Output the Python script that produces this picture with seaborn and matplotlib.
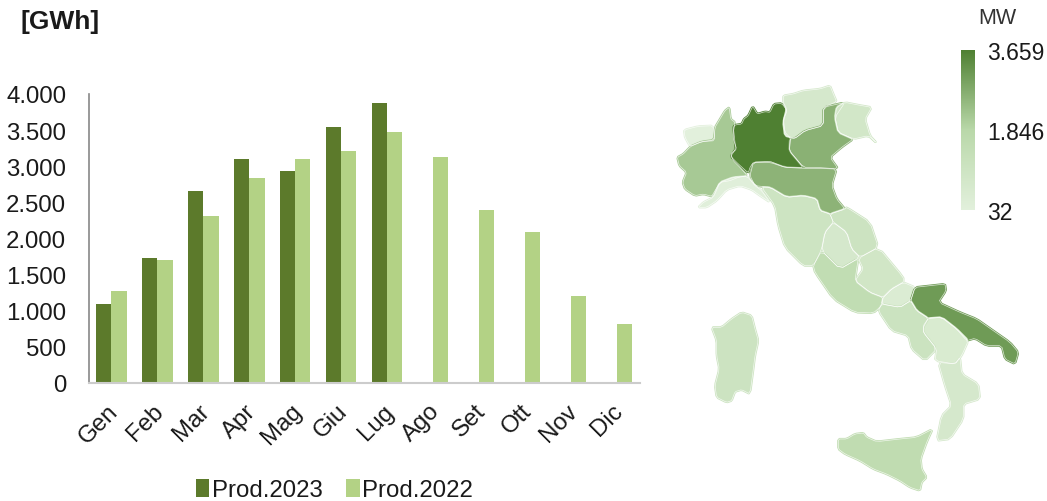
#!/usr/bin/env python3
"""Monthly production bars and installed MW map of Italy."""

import matplotlib
matplotlib.use("Agg")
import matplotlib.pyplot as plt
import numpy as np
import pandas as pd
import seaborn as sns
from matplotlib.cm import ScalarMappable
from matplotlib.colors import LinearSegmentedColormap, Normalize
from matplotlib.patches import Polygon
from matplotlib.ticker import FuncFormatter
from matplotlib.transforms import ScaledTranslation

MONTHS = ["Gen", "Feb", "Mar", "Apr", "Mag", "Giu", "Lug", "Ago", "Set", "Ott", "Nov", "Dic"]
PROD_2023 = [1100, 1730, 2660, 3100, 2930, 3540, 3880, np.nan, np.nan, np.nan, np.nan, np.nan]
PROD_2022 = [1270, 1700, 2310, 2840, 3100, 3210, 3470, 3130, 2400, 2090, 1210, 820]
Y_TICKS = [0, 500, 1000, 1500, 2000, 2500, 3000, 3500, 4000]

# installed MW per region, estimated from the shading
REGION_MW = {
    "Valle d'Aosta": 32, "Piemonte": 2150, "Lombardia": 3659, "Trentino": 620,
    "Veneto": 2650, "Friuli": 750, "Liguria": 130, "Emilia": 2600,
    "Toscana": 950, "Marche": 1000, "Umbria": 600, "Lazio": 1500,
    "Abruzzo": 800, "Molise": 350, "Campania": 1050, "Puglia": 3100,
    "Basilicata": 450, "Calabria": 600, "Sicilia": 1550, "Sardegna": 1000,
}


def north(points):
    return [(670 + x / 3, 70 + y / 3) for x, y in points]


def south(points):
    return [(700 + x / 3, 270 + y / 3) for x, y in points]


REGION_OUTLINES = {
    "Valle d'Aosta": north([(42, 183), (85, 172), (130, 170), (135, 215), (95, 218), (60, 232), (45, 205)]),
    "Piemonte": north([(22, 265), (40, 255), (62, 232), (95, 218), (132, 213), (135, 175), (150, 150), (165, 125),
                       (178, 115), (182, 150), (195, 160), (190, 190), (190, 210), (200, 240), (182, 255), (190, 275),
                       (210, 295), (232, 320), (205, 325), (180, 335), (150, 340), (135, 365), (125, 382), (100, 375),
                       (75, 380), (45, 360), (38, 340), (50, 310), (28, 290)]),
    "Lombardia": north([(190, 175), (195, 168), (215, 165), (222, 150), (235, 140), (248, 112), (262, 135), (285, 128),
                        (300, 130), (312, 105), (335, 103), (352, 125), (340, 150), (345, 190), (362, 208), (358, 245),
                        (375, 265), (400, 295), (370, 295), (345, 295), (320, 285), (300, 277), (250, 280), (240, 295),
                        (235, 312), (205, 285), (182, 262), (197, 240)]),
    "Trentino": north([(340, 80), (370, 75), (400, 65), (450, 60), (480, 50), (490, 75), (500, 98), (460, 115),
                       (460, 170), (405, 185), (375, 208), (345, 200), (340, 160), (350, 120), (340, 100)]),
    "Veneto": north([(460, 115), (525, 100), (495, 145), (505, 190), (550, 210), (515, 235), (480, 265), (505, 300),
                     (440, 295), (400, 295), (358, 245), (360, 210), (375, 208), (405, 185), (460, 170)]),
    "Friuli": north([(500, 115), (525, 100), (565, 108), (605, 115), (585, 150), (600, 200), (620, 222), (595, 200),
                     (550, 210), (505, 190), (495, 145)]),
    "Emilia": north([(250, 280), (300, 280), (345, 295), (400, 298), (440, 298), (500, 300), (485, 350), (500, 390),
                     (525, 420), (480, 435), (450, 425), (440, 390), (400, 380), (350, 385), (300, 355), (255, 350),
                     (240, 320)]),
    "Liguria": north([(85, 415), (100, 400), (130, 385), (150, 340), (190, 325), (232, 322), (255, 350), (275, 365),
                      (300, 400), (270, 380), (245, 362), (210, 350), (170, 362), (140, 395), (110, 415)]),
    "Toscana": north([(275, 355), (300, 355), (350, 385), (400, 380), (440, 390), (450, 425), (480, 435), (490, 460),
                      (465, 490), (455, 540), (430, 590), (400, 590), (345, 535), (325, 470), (315, 410)]),
    "Marche": north([(525, 420), (480, 435), (490, 460), (530, 490), (545, 540), (570, 565), (625, 535), (600, 460),
                     (530, 415)]),
    "Umbria": north([(465, 490), (490, 460), (530, 490), (545, 540), (570, 565), (510, 600), (455, 545)]),
    "Lazio": north([(430, 590), (455, 545), (510, 600), (565, 568), (560, 600)])
    + south([(465, 35), (510, 70), (548, 85), (545, 110), (520, 132), (465, 130), (400, 90), (345, 10)]),
    "Abruzzo": north([(565, 568), (625, 535), (700, 625)])
    + south([(610, 40), (575, 60), (550, 85), (510, 70), (465, 35), (490, 0)]),
    "Molise": south([(610, 40), (645, 55), (632, 95), (600, 115), (545, 105), (550, 85), (575, 60)]),
    "Puglia": south([(645, 55), (690, 50), (735, 45), (738, 65), (715, 100), (780, 130), (830, 150), (870, 178),
                     (930, 220), (955, 250), (945, 285), (915, 270), (905, 230), (860, 230), (825, 208), (800, 215),
                     (770, 180), (725, 145), (685, 148), (650, 125), (632, 95)]),
    "Basilicata": south([(685, 148), (725, 145), (770, 180), (805, 215), (785, 260), (765, 285), (705, 275), (710, 240),
                         (670, 190), (670, 170)]),
    "Campania": south([(545, 105), (600, 115), (632, 95), (650, 125), (685, 148), (670, 175), (670, 190), (710, 240),
                       (675, 275), (635, 240), (625, 200), (575, 185), (535, 125)]),
    "Calabria": south([(715, 280), (765, 285), (780, 265), (785, 315), (835, 345), (840, 390), (790, 405), (790, 450),
                       (750, 510), (710, 515), (725, 440), (755, 410), (735, 350)]),
    "Sicilia": south([(415, 510), (440, 510), (465, 495), (490, 492), (500, 505), (530, 518), (600, 510), (650, 505),
                      (698, 480), (680, 520), (662, 570), (665, 600), (680, 625), (665, 640), (660, 665), (630, 655),
                      (600, 635), (560, 615), (520, 600), (480, 575), (435, 555), (415, 540)]),
    "Sardegna": south([(35, 175), (65, 175), (95, 150), (125, 130), (155, 140), (165, 180), (175, 215), (165, 260),
                       (160, 300), (150, 375), (125, 362), (105, 368), (95, 395), (80, 400), (50, 385), (45, 350),
                       (58, 300), (50, 260), (50, 215)]),
}

FONT = ["Liberation Sans", "DejaVu Sans"]
TEXT_COLOR = "#1a1a1a"
W, H = 1047, 502


def dotted(value, _pos=None):
    """Italian thousands separator."""
    return f"{int(value):,}".replace(",", ".")


def rounded(outline):
    """One pass of corner cutting so the borders are less angular."""
    pts = np.array(outline)
    nxt = np.roll(pts, -1, axis=0)
    cut = np.empty((len(pts) * 2, 2))
    cut[0::2] = 0.85 * pts + 0.15 * nxt
    cut[1::2] = 0.15 * pts + 0.85 * nxt
    return cut


def draw_bars(fig):
    # axes placed in pixels: x 88-640, y 95-384
    ax = fig.add_axes([88.5 / W, 1 - 384 / H, 551.5 / W, 289 / H])
    df = pd.DataFrame({
        "month": MONTHS * 2,
        "prod": PROD_2023 + PROD_2022,
        "serie": ["Prod.2023"] * 12 + ["Prod.2022"] * 12,
    })
    sns.barplot(data=df, x="month", y="prod", hue="serie", ax=ax, width=0.66, gap=0, saturation=1, linewidth=0,
                palette={"Prod.2023": "#5c7a2b", "Prod.2022": "#b3d285"}, errorbar=None)
    ax.set_xlim(-0.5, 11.5)
    ax.set_ylim(0, 4000)
    ax.set_xlabel("")
    ax.set_ylabel("")
    ax.set_yticks(Y_TICKS)
    ax.yaxis.set_major_formatter(FuncFormatter(dotted))
    ax.tick_params(axis="y", labelsize=17.3, length=6, width=1.2, color="#888888", pad=10, labelcolor=TEXT_COLOR)

    # ticks sit between the months, labels in the middle
    ax.set_xticks(np.arange(-0.5, 12, 1), minor=True)
    ax.tick_params(axis="x", which="minor", length=6, width=1.2, color="#cccccc")
    ax.tick_params(axis="x", which="major", length=0, pad=12, labelsize=17.3, labelcolor=TEXT_COLOR)
    shift = ScaledTranslation(-5 / 100, 0, fig.dpi_scale_trans)
    for label in ax.get_xticklabels():
        label.set(rotation=45, ha="right", rotation_mode="anchor")
        label.set_transform(label.get_transform() + shift)

    sns.despine(ax=ax)
    ax.spines["left"].set_color("#888888")
    ax.spines["left"].set_linewidth(1.2)
    ax.spines["bottom"].set_color("#cccccc")
    ax.spines["bottom"].set_linewidth(1.5)

    handles, labels = ax.get_legend_handles_labels()
    ax.legend(handles, labels, ncol=2, frameon=False, fontsize=17.3, loc="center left",
              bbox_to_anchor=(183.5 / W, 1 - 491 / H), bbox_transform=fig.transFigure,
              handlelength=0.55, handleheight=0.75, handletextpad=0.12, columnspacing=1.0, borderpad=0,
              labelcolor=TEXT_COLOR)


def draw_map(fig, cmap, norm):
    ax = fig.add_axes([0, 0, 1, 1], zorder=-1)
    ax.set_xlim(0, W)
    ax.set_ylim(H, 0)
    ax.axis("off")
    # fatten each region in its own colour first so no gaps show, then thin light borders on top
    for region, outline in REGION_OUTLINES.items():
        color = cmap(norm(REGION_MW[region]))
        ax.add_patch(Polygon(rounded(outline), closed=True, facecolor=color, edgecolor=color,
                             linewidth=1.6, joinstyle="round"))
    for outline in REGION_OUTLINES.values():
        ax.add_patch(Polygon(rounded(outline), closed=True, fill=False, edgecolor="white",
                             linewidth=0.5, alpha=0.75, joinstyle="round"))


def draw_scale(fig, cmap, norm):
    cax = fig.add_axes([961 / W, 1 - 211 / H, 14 / W, 160 / H])
    cbar = fig.colorbar(ScalarMappable(norm=norm, cmap=cmap), cax=cax)
    cbar.outline.set_visible(False)
    cbar.set_ticks([32, 1846, 3659])
    cbar.ax.yaxis.set_major_formatter(FuncFormatter(dotted))
    cbar.ax.tick_params(length=0, pad=9, labelsize=16.5, labelcolor=TEXT_COLOR)
    fig.text(997 / W, 1 - 18 / H, "MW", fontsize=15.5, ha="center", va="center", color="#333333")


def main():
    sns.set_style("white")
    plt.rcParams["font.family"] = FONT
    fig = plt.figure(figsize=(W / 100, H / 100), dpi=100)

    cmap = LinearSegmentedColormap.from_list("verdi", [(0, "#e2f0dc"), (0.5, "#b9d8a9"), (1, "#4f8032")])
    norm = Normalize(32, 3659)

    draw_map(fig, cmap, norm)
    draw_bars(fig)
    draw_scale(fig, cmap, norm)
    fig.text(20 / W, 1 - 22 / H, "[GWh]", fontsize=19, fontweight="bold", va="center", color=TEXT_COLOR)

    fig.savefig("out.png", dpi=100)
    plt.close(fig)


if __name__ == "__main__":
    main()
